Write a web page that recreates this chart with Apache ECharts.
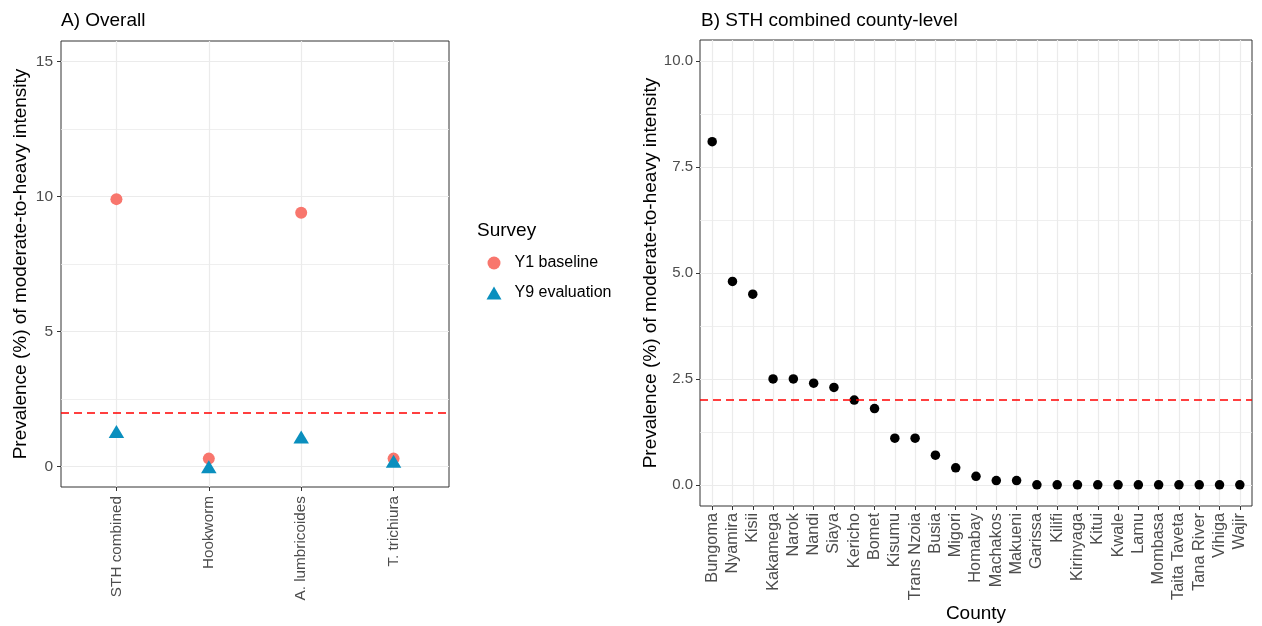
<!DOCTYPE html>
<html>
<head>
<meta charset="utf-8">
<script src="https://cdn.jsdelivr.net/npm/echarts@6/dist/echarts.min.js"></script>
<style>
html,body{margin:0;padding:0;background:#fff;}
#chart{width:1262px;height:626px;}
</style>
</head>
<body>
<div id="chart"></div>
<script>
// ---- Data ----
const categoriesA = ['STH combined', 'Hookworm', 'A. lumbricoides', 'T. trichiura'];
const y1Baseline = [9.9, 0.3, 9.4, 0.3];
const y9Evaluation = [1.3, 0.0, 1.1, 0.2];

const counties = ['Bungoma','Nyamira','Kisii','Kakamega','Narok','Nandi','Siaya','Kericho','Bomet','Kisumu',
  'Trans Nzoia','Busia','Migori','Homabay','Machakos','Makueni','Garissa','Kilifi','Kirinyaga','Kitui',
  'Kwale','Lamu','Mombasa','Taita Taveta','Tana River','Vihiga','Wajir'];
const countyPrev = [8.1, 4.8, 4.5, 2.5, 2.5, 2.4, 2.3, 2.0, 1.8, 1.1,
  1.1, 0.7, 0.4, 0.2, 0.1, 0.1, 0, 0, 0, 0,
  0, 0, 0, 0, 0, 0, 0];

const threshold = 2;
const yTicksA = [0, 5, 10, 15];
const yMinorA = [2.5, 7.5, 12.5];
const yTicksB = [0, 2.5, 5, 7.5, 10];
const yMinorB = [1.25, 3.75, 6.25, 8.75];

const seriesNames = ['Y1 baseline', 'Y9 evaluation'];
const legendTitle = 'Survey';
const yTitle = 'Prevalence (%) of moderate-to-heavy intensity';

// ---- Styling ----
const FONT = '"Liberation Sans", Arial, Helvetica, sans-serif';
const GRID_COL = '#EBEBEB';
const AX_COL = '#333333';
const TICK_TXT = '#4D4D4D';
const COL_Y1 = '#F8766D';
const COL_Y9 = '#0A8FBE';

const chart = echarts.init(document.getElementById('chart'), null, {renderer: 'canvas'});

function idx(arr) { return arr.map((_, i) => i); }

const thresholdLine = {
  silent: true,
  symbol: 'none',
  label: {show: false},
  lineStyle: {color: '#FF0000', type: [8, 5], width: 1.5},
  data: [{yAxis: threshold}]
};

const titleStyle = {fontSize: 19, fontWeight: 'normal', color: '#000', fontFamily: FONT};

const option = {
  animation: false,
  backgroundColor: '#fff',
  textStyle: {fontFamily: FONT},
  title: [
    {text: 'A) Overall', left: 61, top: 11, padding: 0, textStyle: titleStyle},
    {text: 'B) STH combined county-level', left: 701, top: 11, padding: 0, textStyle: titleStyle},
    {text: legendTitle, left: 477, top: 221, padding: 0, textStyle: titleStyle}
  ],
  legend: {
    orient: 'vertical',
    left: 486.5, top: 255, padding: 0,
    itemWidth: 15, itemHeight: 13, itemGap: 14,
    textStyle: {fontSize: 16, color: '#000', fontFamily: FONT, padding: [0, 0, 0, 8]},
    data: [{name: seriesNames[0], icon: 'circle'}, {name: seriesNames[1], icon: 'triangle'}]
  },
  grid: [
    {left: 61, top: 41, width: 388, height: 446, show: true, borderColor: AX_COL, borderWidth: 1, backgroundColor: '#fff', outerBoundsMode: 'none', containLabel: false},
    {left: 700, top: 40, width: 552, height: 466, show: true, borderColor: AX_COL, borderWidth: 1, backgroundColor: '#fff', outerBoundsMode: 'none', containLabel: false}
  ],
  xAxis: [
    {
      gridIndex: 0, type: 'value', min: -0.6, max: 3.6, position: 'bottom',
      axisLine: {show: false, onZero: false},
      axisTick: {show: true, inside: false, length: 4, lineStyle: {color: AX_COL}, customValues: idx(categoriesA)},
      axisLabel: {show: true, rotate: 90, margin: 9, fontSize: 15.3, color: TICK_TXT, fontFamily: FONT,
        customValues: idx(categoriesA), formatter: v => categoriesA[Math.round(v)]},
      splitLine: {show: true, lineStyle: {color: GRID_COL, width: 1.2}}
    },
    {
      gridIndex: 1, type: 'value', min: -0.6, max: counties.length - 1 + 0.6, position: 'bottom',
      name: 'County', nameLocation: 'middle', nameGap: 98, nameMoveOverlap: false,
      nameTextStyle: {fontSize: 19, color: '#000', fontFamily: FONT},
      axisLine: {show: false, onZero: false},
      axisTick: {show: true, inside: false, length: 4, lineStyle: {color: AX_COL}, customValues: idx(counties)},
      axisLabel: {show: true, rotate: 90, margin: 7, fontSize: 16.3, color: TICK_TXT, fontFamily: FONT,
        customValues: idx(counties), formatter: v => counties[Math.round(v)]},
      splitLine: {show: true, lineStyle: {color: GRID_COL, width: 1.2}}
    }
  ],
  yAxis: [
    {
      gridIndex: 0, type: 'value', min: -0.75, max: 15.75, position: 'left',
      name: yTitle, nameLocation: 'middle', nameGap: 31, nameRotate: 90,
      nameTextStyle: {fontSize: 19, color: '#000', fontFamily: FONT},
      axisLine: {show: false, onZero: false},
      axisTick: {show: true, inside: false, length: 4, lineStyle: {color: AX_COL}, customValues: yTicksA},
      axisLabel: {show: true, margin: 8, fontSize: 15.5, color: TICK_TXT, fontFamily: FONT, customValues: yTicksA},
      splitLine: {show: true, lineStyle: {color: GRID_COL, width: 1.2}}
    },
    {
      gridIndex: 0, type: 'value', min: -0.75, max: 15.75, position: 'left',
      axisLine: {show: false, onZero: false}, axisLabel: {show: false},
      axisTick: {show: false, customValues: yMinorA},
      splitLine: {show: true, lineStyle: {color: GRID_COL, width: 0.8}}
    },
    {
      gridIndex: 1, type: 'value', min: -0.5, max: 10.5, position: 'left',
      name: yTitle, nameLocation: 'middle', nameGap: 39, nameRotate: 90,
      nameTextStyle: {fontSize: 19, color: '#000', fontFamily: FONT},
      axisLine: {show: false, onZero: false},
      axisTick: {show: true, inside: false, length: 4, lineStyle: {color: AX_COL}, customValues: yTicksB},
      axisLabel: {show: true, margin: 7, fontSize: 15, color: TICK_TXT, fontFamily: FONT, customValues: yTicksB,
        formatter: v => v.toFixed(1)},
      splitLine: {show: true, lineStyle: {color: GRID_COL, width: 1.2}}
    },
    {
      gridIndex: 1, type: 'value', min: -0.5, max: 10.5, position: 'left',
      axisLine: {show: false, onZero: false}, axisLabel: {show: false},
      axisTick: {show: false, customValues: yMinorB},
      splitLine: {show: true, lineStyle: {color: GRID_COL, width: 0.8}}
    }
  ],
  series: [
    {
      name: seriesNames[0], type: 'scatter', xAxisIndex: 0, yAxisIndex: 0,
      symbol: 'circle', symbolSize: 12, itemStyle: {color: COL_Y1, opacity: 1},
      data: categoriesA.map((c, i) => [i, y1Baseline[i]]),
      markLine: thresholdLine, z: 3
    },
    {
      name: seriesNames[1], type: 'scatter', xAxisIndex: 0, yAxisIndex: 0,
      symbol: 'triangle', symbolSize: [15.5, 13], itemStyle: {color: COL_Y9, opacity: 1},
      data: categoriesA.map((c, i) => [i, y9Evaluation[i]]), z: 4
    },
    {
      name: 'County', type: 'scatter', xAxisIndex: 1, yAxisIndex: 2,
      symbol: 'circle', symbolSize: 9.5, itemStyle: {color: '#000', opacity: 1},
      data: counties.map((c, i) => [i, countyPrev[i]]),
      markLine: thresholdLine, z: 3
    }
  ]
};
chart.setOption(option);
</script>
</body>
</html>
